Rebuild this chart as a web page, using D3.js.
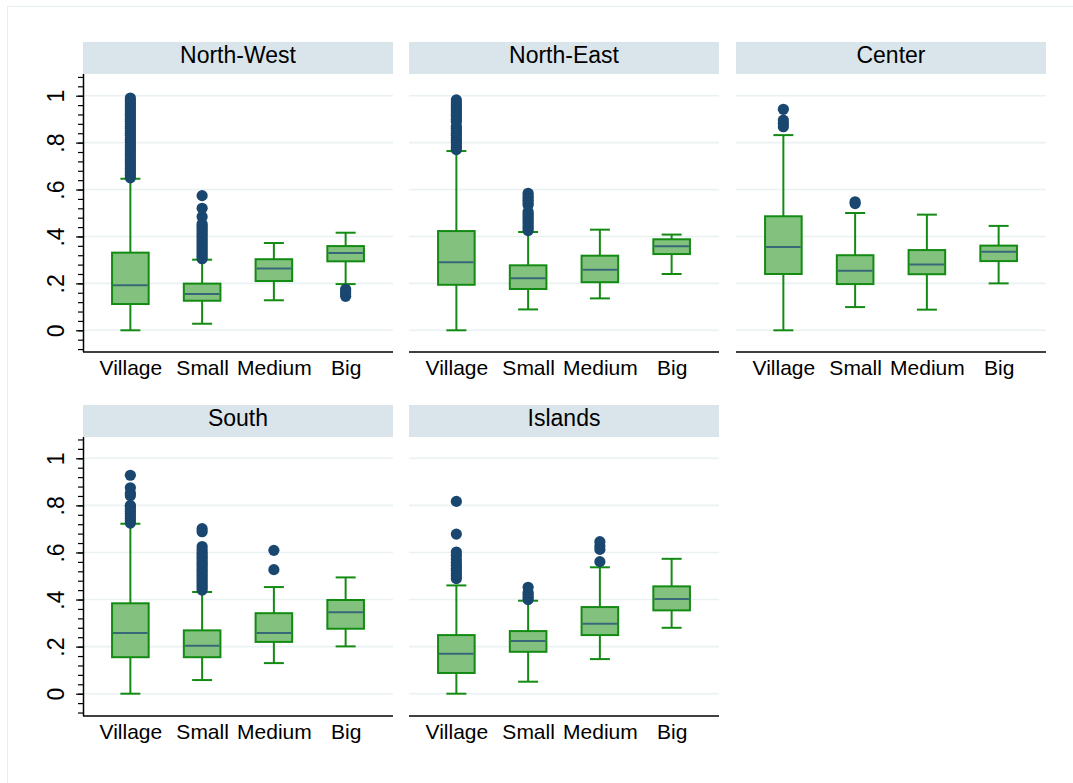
<!DOCTYPE html>
<html>
<head>
<meta charset="utf-8">
<script src="https://cdn.jsdelivr.net/npm/d3@7"></script>
<style>
  html, body { margin: 0; padding: 0; background: #ffffff; }
  svg { display: block; }
  text { font-family: "Liberation Sans", Arial, Helvetica, sans-serif; fill: #000; }
</style>
</head>
<body>
<svg id="chart" width="1073" height="783"></svg>
<script>
// Share of value by town size, one panel per macro-region
const regions = ["North-West", "North-East", "Center", "South", "Islands"];
const sizes = ["Village", "Small", "Medium", "Big"];
const yTicks = [0, 0.2, 0.4, 0.6, 0.8, 1];
const yTickLabels = ["0", ".2", ".4", ".6", ".8", "1"];

// Box statistics, rows follow `regions`, columns follow `sizes`
const whiskerLow = [
  [0.000, 0.028, 0.128, 0.197],
  [0.000, 0.089, 0.136, 0.240],
  [0.000, 0.099, 0.088, 0.200],
  [0.000, 0.058, 0.130, 0.201],
  [0.000, 0.051, 0.147, 0.280]
];
const quartile1 = [
  [0.112, 0.126, 0.210, 0.294],
  [0.194, 0.176, 0.205, 0.325],
  [0.240, 0.197, 0.239, 0.295],
  [0.155, 0.155, 0.220, 0.276],
  [0.088, 0.178, 0.249, 0.354]
];
const medians = [
  [0.192, 0.155, 0.263, 0.330],
  [0.290, 0.222, 0.258, 0.358],
  [0.355, 0.254, 0.281, 0.335],
  [0.258, 0.204, 0.258, 0.346],
  [0.170, 0.224, 0.297, 0.402]
];
const quartile3 = [
  [0.331, 0.199, 0.303, 0.359],
  [0.423, 0.277, 0.318, 0.388],
  [0.486, 0.320, 0.342, 0.361],
  [0.384, 0.269, 0.342, 0.398],
  [0.249, 0.266, 0.368, 0.456]
];
const whiskerHigh = [
  [0.646, 0.301, 0.372, 0.416],
  [0.764, 0.419, 0.429, 0.408],
  [0.832, 0.500, 0.493, 0.445],
  [0.722, 0.432, 0.453, 0.494],
  [0.460, 0.395, 0.537, 0.573]
];

// Outlying observations
const outliersNorthWest = [
  [0.65, 0.66, 0.67, 0.68, 0.69, 0.70, 0.71, 0.72, 0.73, 0.74, 0.75, 0.76, 0.77, 0.78,
   0.79, 0.80, 0.81, 0.82, 0.83, 0.84, 0.85, 0.86, 0.87, 0.88, 0.89, 0.90, 0.91, 0.92,
   0.93, 0.94, 0.95, 0.96, 0.97, 0.98, 0.99],
  [0.305, 0.315, 0.325, 0.335, 0.345, 0.355, 0.365, 0.375, 0.385, 0.395, 0.405, 0.415,
   0.425, 0.435, 0.445, 0.453, 0.484, 0.520, 0.574],
  [],
  [0.145, 0.155, 0.165, 0.175]
];
const outliersNorthEast = [
  [0.770, 0.780, 0.790, 0.800, 0.810, 0.820, 0.830, 0.840, 0.850, 0.860, 0.870,
   0.890, 0.900, 0.910, 0.920, 0.930, 0.940, 0.950, 0.960, 0.970, 0.982],
  [0.425, 0.435, 0.445, 0.455, 0.465, 0.475, 0.485, 0.495, 0.505,
   0.534, 0.544, 0.554, 0.564, 0.574, 0.584],
  [],
  []
];
const outliersCenter = [
  [0.868, 0.882, 0.896, 0.942],
  [0.540, 0.548],
  [],
  []
];
const outliersSouth = [
  [0.725, 0.735, 0.745, 0.755, 0.765, 0.775, 0.785, 0.795, 0.800, 0.841, 0.852, 0.875, 0.928],
  [0.440, 0.450, 0.460, 0.470, 0.480, 0.490, 0.500, 0.510, 0.520, 0.530, 0.540,
   0.550, 0.560, 0.570, 0.580, 0.590, 0.600, 0.612, 0.625, 0.688, 0.701],
  [0.527, 0.609],
  []
];
const outliersIslands = [
  [0.489, 0.500, 0.510, 0.522, 0.533, 0.545, 0.558, 0.572, 0.588, 0.602, 0.678, 0.817],
  [0.400, 0.410, 0.420, 0.430, 0.452],
  [0.561, 0.613, 0.627, 0.646],
  []
];
const outliers = [outliersNorthWest, outliersNorthEast, outliersCenter, outliersSouth, outliersIslands];

// Layout
const colX = [83, 409, 736];
const panelW = 310;
const headerTop = [42, 405];
const headerH = 32;
const axisY = [352, 716];
const zeroY = [330.3, 693.7];
const oneY = [95.7, 458.3];

const colors = {
  header: "#d9e5eb",
  grid: "#eaf1f3",
  fill: "#83c27e",
  stroke: "#138b13",
  median: "#386878",
  dot: "#1a476f"
};

const svg = d3.select("#chart");

// Outer frame
svg.append("rect")
  .attr("x", 7.5).attr("y", 6.5)
  .attr("width", 1100).attr("height", 800)
  .attr("fill", "none").attr("stroke", "#e6eef1").attr("stroke-width", 1);

regions.forEach((region, ri) => {
  const row = Math.floor(ri / 3);
  const col = ri % 3;
  const x0 = colX[col];
  const g = svg.append("g").attr("class", "panel");

  const x = d3.scalePoint().domain(sizes).range([x0, x0 + panelW]).padding(0.66);
  const y = d3.scaleLinear().domain([0, 1]).range([zeroY[row], oneY[row]]);
  const plotTop = headerTop[row] + headerH;
  const boxW = x.step() * 0.51;
  const capW = 20;

  // Header strip
  g.append("rect")
    .attr("x", x0).attr("y", headerTop[row])
    .attr("width", panelW).attr("height", headerH)
    .attr("fill", colors.header);
  g.append("text")
    .attr("x", x0 + panelW / 2).attr("y", headerTop[row] + 21)
    .attr("text-anchor", "middle")
    .attr("font-size", 23)
    .text(region);

  // Gridlines
  g.append("g").selectAll("line").data(yTicks).join("line")
    .attr("x1", x0).attr("x2", x0 + panelW)
    .attr("y1", d => y(d)).attr("y2", d => y(d))
    .attr("stroke", colors.grid).attr("stroke-width", 1.6);

  // Y axis on the first column only
  if (col === 0) {
    const minor = d3.range(-2, 28).map(i => i * 0.04).filter(v => y(v) > plotTop && y(v) < axisY[row]);
    const axisMinor = d3.axisLeft(y).tickValues(minor).tickSize(5).tickFormat("");
    const axisMajor = d3.axisLeft(y).tickValues(yTicks).tickSize(7)
      .tickFormat((d, i) => yTickLabels[i]);
    const gm = g.append("g").attr("transform", `translate(${x0},0)`).call(axisMinor);
    gm.select(".domain").remove();
    gm.selectAll("line").attr("stroke", "#000").attr("stroke-width", 1.2);
    const ga = g.append("g").attr("transform", `translate(${x0},0)`).call(axisMajor);
    ga.select(".domain").remove();
    ga.selectAll("line").attr("stroke", "#000").attr("stroke-width", 1.2);
    ga.selectAll("text")
      .attr("x", null).attr("dy", null)
      .attr("font-size", 23)
      .attr("font-family", "'Liberation Sans', Arial, sans-serif")
      .attr("fill", "#000")
      .attr("text-anchor", "middle")
      .attr("transform", "translate(-19.5,0) rotate(-90)");
    g.append("line")
      .attr("x1", x0 + 0.5).attr("x2", x0 + 0.5)
      .attr("y1", plotTop).attr("y2", axisY[row])
      .attr("stroke", "#000").attr("stroke-width", 1.5);
  }

  // Bottom axis with category labels
  const xAxis = d3.axisBottom(x).tickSize(0).tickPadding(8);
  const gx = g.append("g").attr("transform", `translate(0,${axisY[row]})`).call(xAxis);
  gx.select(".domain").attr("stroke", "#000").attr("stroke-width", 1.5)
    .attr("d", `M${x0},0H${x0 + panelW}`);
  gx.selectAll("text")
    .attr("font-size", 21)
    .attr("font-family", "'Liberation Sans', Arial, sans-serif")
    .attr("fill", "#000");

  // Boxes
  sizes.forEach((s, si) => {
    const cx = x(s);
    const lo = whiskerLow[ri][si], q1 = quartile1[ri][si], md = medians[ri][si],
          q3 = quartile3[ri][si], hi = whiskerHigh[ri][si];
    const b = g.append("g").attr("class", "box");
    // whiskers
    b.append("line").attr("x1", cx).attr("x2", cx).attr("y1", y(q3)).attr("y2", y(hi))
      .attr("stroke", colors.stroke).attr("stroke-width", 2);
    b.append("line").attr("x1", cx).attr("x2", cx).attr("y1", y(q1)).attr("y2", y(lo))
      .attr("stroke", colors.stroke).attr("stroke-width", 2);
    b.append("line").attr("x1", cx - capW / 2).attr("x2", cx + capW / 2).attr("y1", y(hi)).attr("y2", y(hi))
      .attr("stroke", colors.stroke).attr("stroke-width", 2);
    b.append("line").attr("x1", cx - capW / 2).attr("x2", cx + capW / 2).attr("y1", y(lo)).attr("y2", y(lo))
      .attr("stroke", colors.stroke).attr("stroke-width", 2);
    // box
    b.append("rect")
      .attr("x", cx - boxW / 2).attr("y", y(q3))
      .attr("width", boxW).attr("height", y(q1) - y(q3))
      .attr("fill", colors.fill).attr("stroke", colors.stroke).attr("stroke-width", 2);
    // median
    b.append("line").attr("x1", cx - boxW / 2 + 1).attr("x2", cx + boxW / 2 - 1)
      .attr("y1", y(md)).attr("y2", y(md))
      .attr("stroke", colors.median).attr("stroke-width", 2);
    // outliers
    b.append("g").selectAll("circle").data(outliers[ri][si]).join("circle")
      .attr("cx", cx).attr("cy", d => y(d)).attr("r", 5.6)
      .attr("fill", colors.dot);
  });
});
</script>
</body>
</html>
